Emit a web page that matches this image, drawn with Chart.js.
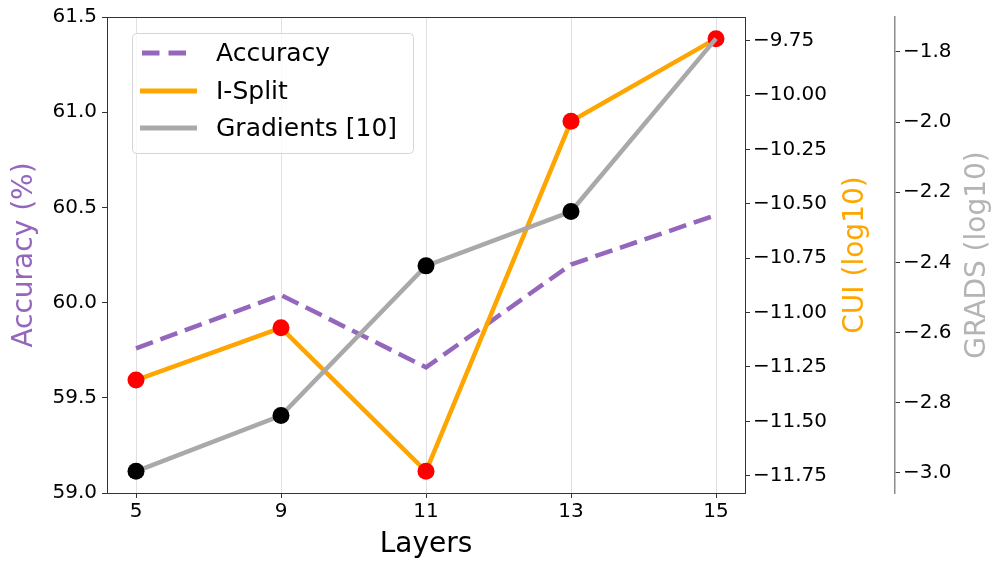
<!DOCTYPE html>
<html>
<head>
<meta charset="utf-8">
<script src="https://cdn.jsdelivr.net/npm/chart.js@4.4.0/dist/chart.umd.min.js"></script>
<style>
  html, body { margin: 0; padding: 0; background: #fff; }
  #wrap { width: 994px; height: 563px; position: relative; }
</style>
</head>
<body>
<div id="wrap"><canvas id="chart"></canvas></div>
<script>
// layer numbers on the x axis
const layers = ['5', '9', '11', '13', '15'];
// accuracy (%) per layer, left axis
const accuracy = [59.76, 60.04, 59.66, 60.20, 60.46];
// I-Split CUI (log10), first right axis
const iSplit = [-11.31, -11.07, -11.73, -10.12, -9.74];
// Gradients [10] (log10), second right axis
const gradients = [-2.996, -2.837, -2.41, -2.255, -1.762];

// tick labels
const accTicks = [59.0, 59.5, 60.0, 60.5, 61.0, 61.5];
const cuiTicks = [-11.75, -11.5, -11.25, -11.0, -10.75, -10.5, -10.25, -10.0, -9.75];
const gradTicks = [-3.0, -2.8, -2.6, -2.4, -2.2, -2.0, -1.8];

const FONT = 'DejaVu Sans';
const PURPLE = '#9467bd';
const ORANGE = '#ffa500';
const GREY = '#a9a9a9';
const SPINE = '#333333';

// matplotlib style 5% margins around the data
function padRange(arr) {
    const lo = Math.min(...arr), hi = Math.max(...arr);
    const pad = (hi - lo) * 0.05;
    return { min: lo - pad, max: hi + pad };
}
const cuiRange = padRange(iSplit);
const gradRange = padRange(gradients);

const minus = s => s.replace('-', '\u2212');

function toPoints(values) {
    return values.map((v, i) => ({ x: i, y: v }));
}

// draws the spine on top, the rotated axis titles and the legend
const decorPlugin = {
    id: 'decor',
    afterDatasetsDraw(chart) {
        const ctx = chart.ctx;
        const a = chart.chartArea;
        ctx.save();
        // top spine
        ctx.strokeStyle = SPINE;
        ctx.lineWidth = 1;
        ctx.beginPath();
        ctx.moveTo(a.left, a.top + 0.5);
        ctx.lineTo(a.right, a.top + 0.5);
        ctx.stroke();

        // legend box
        const legendItems = [
            { label: 'Accuracy', color: PURPLE, dash: [17.5, 9] },
            { label: 'I-Split', color: ORANGE, dash: [] },
            { label: 'Gradients [10]', color: GREY, dash: [] }
        ];
        ctx.fillStyle = 'rgba(255,255,255,0.8)';
        ctx.strokeStyle = '#d6d6d6';
        ctx.lineWidth = 1;
        ctx.beginPath();
        ctx.roundRect(132.5, 33.5, 281, 120, 4);
        ctx.fill();
        ctx.stroke();
        const rows = [53, 91, 128];
        legendItems.forEach((item, i) => {
            ctx.strokeStyle = item.color;
            ctx.lineWidth = 5;
            ctx.setLineDash(item.dash);
            ctx.beginPath();
            ctx.moveTo(item.dash.length ? 142 : 140, rows[i]);
            ctx.lineTo(item.dash.length ? 186 : 197, rows[i]);
            ctx.stroke();
            ctx.setLineDash([]);
            ctx.fillStyle = '#000';
            ctx.font = '25px "' + FONT + '"';
            ctx.textAlign = 'left';
            ctx.textBaseline = 'middle';
            ctx.fillText(item.label, 216, rows[i] + 1);
        });

        // axis titles
        ctx.font = '28px "' + FONT + '"';
        ctx.textAlign = 'center';
        ctx.textBaseline = 'middle';
        ctx.fillStyle = '#000';
        ctx.fillText('Layers', (a.left + a.right) / 2, 545);

        const midY = (a.top + a.bottom) / 2;
        const vTitles = [
            { text: 'Accuracy (%)', x: 25, color: PURPLE },
            { text: 'CUI (log10)', x: 856, color: ORANGE },
            { text: 'GRADS (log10)', x: 978, color: '#b4b4b4' }
        ];
        vTitles.forEach(t => {
            ctx.save();
            ctx.translate(t.x, midY);
            ctx.rotate(-Math.PI / 2);
            ctx.fillStyle = t.color;
            ctx.fillText(t.text, 0, 0);
            ctx.restore();
        });
        ctx.restore();
    }
};

const tickFont = { family: FONT, size: 20 };

new Chart(document.getElementById('chart'), {
    type: 'line',
    data: {
        datasets: [
            {
                label: 'Accuracy',
                data: toPoints(accuracy),
                yAxisID: 'y',
                borderColor: PURPLE,
                borderWidth: 4.5,
                borderDash: [18, 8],
                pointRadius: 0,
                fill: false,
                order: 5
            },
            {
                label: 'I-Split',
                data: toPoints(iSplit),
                yAxisID: 'y1',
                borderColor: ORANGE,
                borderWidth: 4.5,
                pointRadius: 8.5,
                pointBackgroundColor: '#ff0000',
                pointBorderWidth: 0,
                fill: false,
                order: 3
            },
            {
                label: 'Gradients [10]',
                data: toPoints(gradients),
                yAxisID: 'y2',
                borderColor: GREY,
                borderWidth: 4.5,
                pointRadius: c => (c.dataIndex === gradients.length - 1 ? 0 : 8.5),
                pointBackgroundColor: '#000000',
                pointBorderWidth: 0,
                fill: false,
                order: 1
            }
        ]
    },
    options: {
        responsive: true,
        maintainAspectRatio: false,
        animation: false,
        devicePixelRatio: 1,
        layout: { padding: { top: 15, left: 0, right: 0, bottom: 0 } },
        plugins: {
            legend: { display: false },
            tooltip: { enabled: false }
        },
        scales: {
            x: {
                type: 'linear',
                position: 'bottom',
                min: -0.2,
                max: layers.length - 1 + 0.2,
                afterBuildTicks: s => { s.ticks = layers.map((l, i) => ({ value: i })); },
                afterFit: s => { s.height = 70; },
                ticks: {
                    font: tickFont,
                    color: '#000',
                    padding: 2,
                    maxRotation: 0,
                    callback: v => layers[v]
                },
                grid: {
                    color: 'rgba(0,0,0,0.12)',
                    lineWidth: 1,
                    tickLength: 5,
                    tickColor: SPINE
                },
                border: { color: SPINE, width: 1 }
            },
            y: {
                position: 'left',
                min: 59.0,
                max: 61.5,
                afterBuildTicks: s => { s.ticks = accTicks.map(v => ({ value: v })); },
                afterFit: s => { s.width = 107; },
                ticks: {
                    font: tickFont,
                    color: '#000',
                    padding: 5,
                    callback: v => v.toFixed(1)
                },
                grid: { drawOnChartArea: false, tickLength: 5, tickColor: SPINE },
                border: { color: SPINE, width: 1 }
            },
            y1: {
                position: 'right',
                weight: 0,
                min: cuiRange.min,
                max: cuiRange.max,
                afterBuildTicks: s => { s.ticks = cuiTicks.map(v => ({ value: v })); },
                afterFit: s => { s.width = 150; },
                ticks: {
                    font: tickFont,
                    color: '#000',
                    padding: 3,
                    callback: v => minus(v.toFixed(2))
                },
                grid: { drawOnChartArea: false, tickLength: 5, tickColor: SPINE },
                border: { color: SPINE, width: 1 }
            },
            y2: {
                position: 'right',
                weight: 1,
                min: gradRange.min,
                max: gradRange.max,
                afterBuildTicks: s => { s.ticks = gradTicks.map(v => ({ value: v })); },
                afterFit: s => { s.width = 99; },
                ticks: {
                    font: tickFont,
                    color: '#000',
                    padding: 3,
                    callback: v => minus(v.toFixed(1))
                },
                grid: { drawOnChartArea: false, tickLength: 5, tickColor: SPINE },
                border: { color: '#8c8c8c', width: 1.5 }
            }
        }
    },
    plugins: [decorPlugin]
});
</script>
</body>
</html>
